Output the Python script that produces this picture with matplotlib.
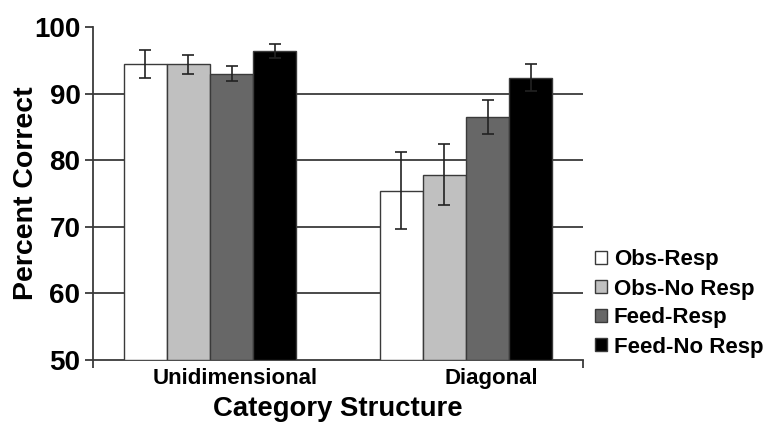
import numpy as np
import matplotlib
matplotlib.use("Agg")
import matplotlib.pyplot as plt
import matplotlib.transforms as mtransforms

plt.rcParams['font.family'] = ['Liberation Sans', 'DejaVu Sans']
plt.rcParams['font.weight'] = 'bold'
plt.rcParams['axes.labelweight'] = 'bold'

categories = ["Unidimensional", "Diagonal"]
conditions = ["Obs-Resp", "Obs-No Resp", "Feed-Resp", "Feed-No Resp"]
means = {
    "Obs-Resp":     [94.4, 75.4],
    "Obs-No Resp":  [94.4, 77.8],
    "Feed-Resp":    [93.0, 86.5],
    "Feed-No Resp": [96.4, 92.4],
}
errors = {
    "Obs-Resp":     [2.1, 5.8],
    "Obs-No Resp":  [1.4, 4.6],
    "Feed-Resp":    [1.1, 2.6],
    "Feed-No Resp": [1.1, 2.0],
}
colors = ["#ffffff", "#c0c0c0", "#676767", "#000000"]

fig = plt.figure(figsize=(7.67, 4.25), dpi=100)
ax = fig.add_axes([93/767, 1 - 360/425, 490/767, 333/425])

x = np.arange(len(categories))
w = 0.168
for i, cond in enumerate(conditions):
    pos = x + (i - 1.5) * w
    ax.bar(pos, np.array(means[cond]) - 50, bottom=50, width=w, color=colors[i],
           edgecolor="#3a3a3a", linewidth=1.0, label=cond, zorder=3)
    ax.errorbar(pos, means[cond], yerr=errors[cond], fmt="none", ecolor="#222222",
                elinewidth=1.2, capsize=4, capthick=1.2, zorder=4)

ax.set_ylim(50, 100)
ax.set_xlim(-0.457, 1.457)
ax.set_yticks([50, 60, 70, 80, 90, 100])
for yv in [60, 70, 80, 90]:
    ax.axhline(yv, color="#3a3a3a", linewidth=1.3, zorder=1)

ax.spines['top'].set_visible(False)
ax.spines['right'].set_visible(False)
ax.spines['left'].set_color("#3a3a3a")
ax.spines['bottom'].set_color("#3a3a3a")
ax.spines['left'].set_linewidth(1.3)
ax.spines['bottom'].set_linewidth(1.3)
ax.tick_params(axis='y', length=6, width=1.3, color="#3a3a3a", labelsize=20, pad=3)

# category boundary ticks on the x-axis
ax.set_xticks([-0.457, 1.457])
ax.set_xticklabels(["", ""])
ax.tick_params(axis='x', length=6, width=1.3, color="#3a3a3a")
ax.set_xticks(x, minor=True)
ax.set_xticklabels(categories, minor=True, fontsize=16)
ax.tick_params(axis='x', which='minor', length=0, pad=6)
offset = mtransforms.ScaledTranslation(0.25, 0, fig.dpi_scale_trans)
for lab in ax.get_xticklabels(minor=True):
    lab.set_transform(lab.get_transform() + offset)

ax.set_ylabel("Percent Correct", fontsize=20.5)
ax.yaxis.set_label_coords(-0.11, 0.5)
ax.set_xlabel("Category Structure", fontsize=19.8, labelpad=5)

handles, labels = ax.get_legend_handles_labels()
fig.legend(handles, labels, loc="center left", bbox_to_anchor=(586/767, 1 - 303.5/425),
           frameon=False, fontsize=16, handlelength=0.55, handleheight=0.55,
           handletextpad=0.3, labelspacing=0.36, borderaxespad=0)

fig.savefig("out.png", dpi=100)
